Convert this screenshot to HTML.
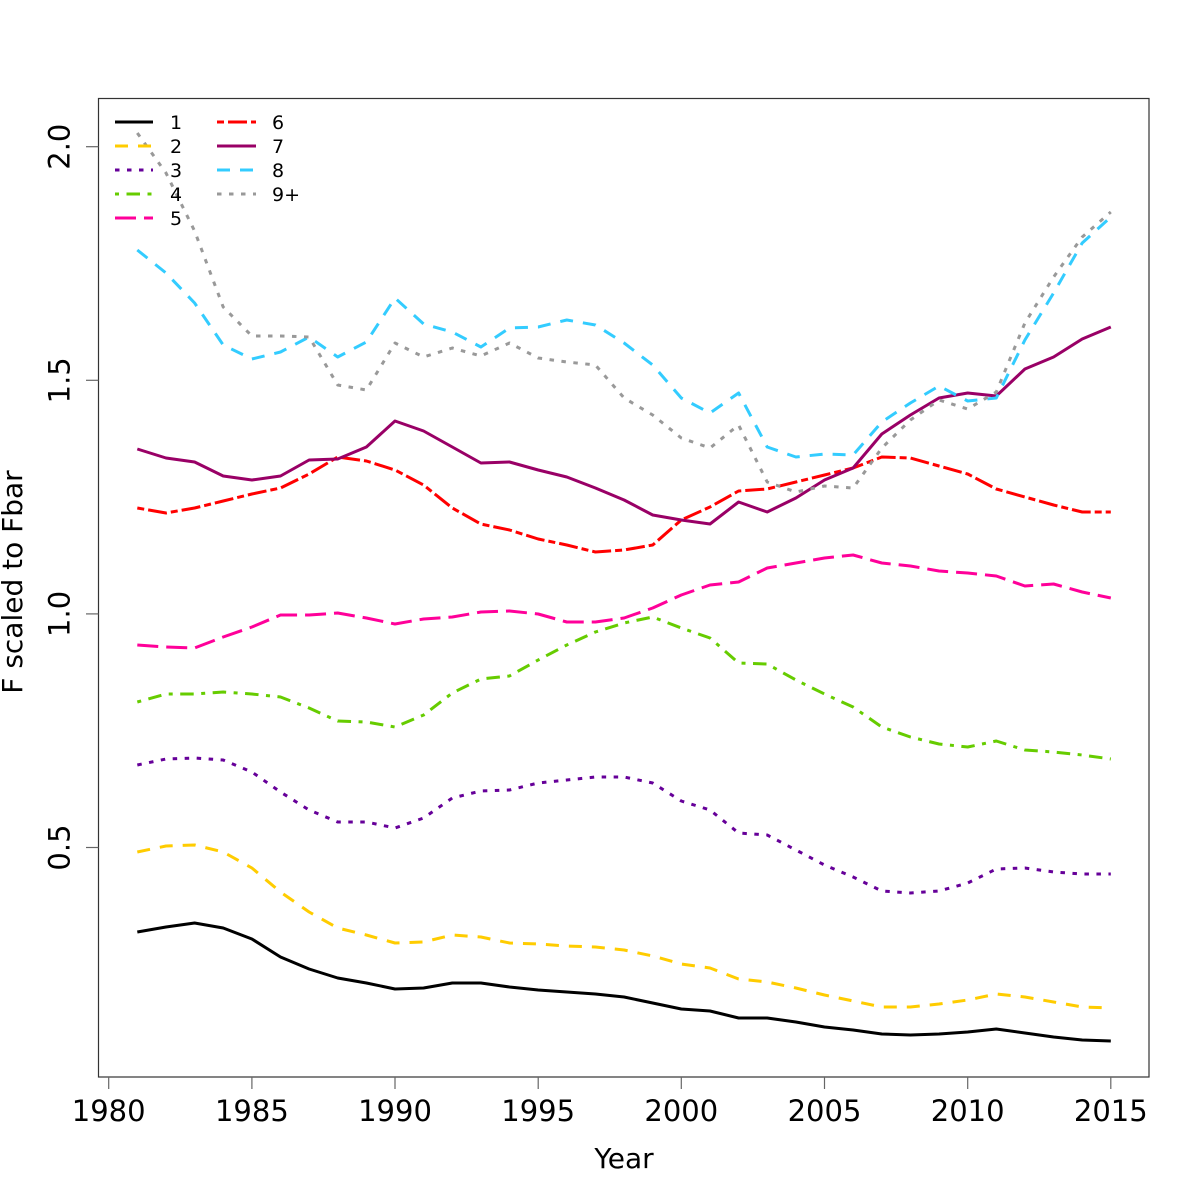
<!DOCTYPE html>
<html>
<head>
<meta charset="utf-8">
<style>
html,body{margin:0;padding:0;background:#fff;}
svg{display:block;}
text{font-family:"DejaVu Sans","Liberation Sans",sans-serif;fill:#000;}
</style>
</head>
<body>
<svg width="1200" height="1200" viewBox="0 0 1200 1200" xmlns="http://www.w3.org/2000/svg">
<rect width="1200" height="1200" fill="#fff"/>

<g fill="none" stroke-width="3" stroke-linejoin="round" stroke-linecap="butt">
<!-- 1 black solid -->
<polyline stroke="#000000" points="137.3,932 166.0,927 194.6,923 223.2,928 251.9,939 280.5,957 309.1,969 337.7,978 366.4,983 395.0,989 423.6,988 452.3,983 480.9,983 509.5,987 538.2,990 566.8,992 595.4,994 624.1,997 652.7,1003 681.3,1009 710.0,1011 738.6,1018 767.2,1018 795.9,1022 824.5,1027 853.1,1030 881.8,1034 910.4,1035 939.0,1034 967.7,1032 996.3,1029 1024.9,1033 1053.6,1037 1082.2,1040 1110.8,1041"/>
<!-- 2 gold dashed -->
<polyline stroke="#FFCC00" stroke-dasharray="13 10" points="137.3,852 166.0,846 194.6,845 223.2,852 251.9,868 280.5,892 309.1,912 337.7,928 366.4,935 395.0,943 423.6,942 452.3,935 480.9,937 509.5,943 538.2,944 566.8,946 595.4,947 624.1,950 652.7,956 681.3,964 710.0,968 738.6,979 767.2,982 795.9,988 824.5,995 853.1,1001 881.8,1007 910.4,1007 939.0,1004 967.7,1000 996.3,994 1024.9,997 1053.6,1002 1082.2,1007 1110.8,1008"/>
<!-- 3 purple dotted -->
<polyline stroke="#660099" stroke-dasharray="4.5 7.5" points="137.3,765 166.0,759 194.6,758 223.2,760 251.9,772 280.5,792 309.1,810 337.7,822 366.4,822 395.0,828 423.6,818 452.3,798 480.9,791 509.5,790 538.2,783 566.8,780 595.4,777 624.1,777 652.7,783 681.3,801 710.0,810 738.6,833 767.2,835 795.9,850 824.5,865 853.1,877 881.8,891 910.4,893 939.0,891 967.7,883 996.3,869 1024.9,868 1053.6,872 1082.2,874 1110.8,874"/>
<!-- 4 green dotdash -->
<polyline stroke="#66CC00" stroke-dasharray="4 7.5 13.5 7.5" points="137.3,702 166.0,694 194.6,694 223.2,692 251.9,694 280.5,697 309.1,708 337.7,721 366.4,722 395.0,727 423.6,715 452.3,693 480.9,679 509.5,676 538.2,660 566.8,645 595.4,632 624.1,623 652.7,617 681.3,628 710.0,638 738.6,663 767.2,664 795.9,680 824.5,694 853.1,707 881.8,727 910.4,737 939.0,744 967.7,747 996.3,741 1024.9,750 1053.6,752 1082.2,755 1110.8,759"/>
<!-- 5 pink longdash -->
<polyline stroke="#FF0099" stroke-dasharray="21 8" points="137.3,645 166.0,647 194.6,648 223.2,637 251.9,627 280.5,615 309.1,615 337.7,613 366.4,618 395.0,624 423.6,619 452.3,617 480.9,612 509.5,611 538.2,614 566.8,622 595.4,622 624.1,618 652.7,608 681.3,595 710.0,585 738.6,582 767.2,568 795.9,563 824.5,558 853.1,555 881.8,563 910.4,566 939.0,571 967.7,573 996.3,576 1024.9,586 1053.6,584 1082.2,592 1110.8,598"/>
<!-- 6 red twodash -->
<polyline stroke="#FF0000" stroke-dasharray="7 4 19 4" points="137.3,508 166.0,513 194.6,508 223.2,501 251.9,494 280.5,488 309.1,474 337.7,457 366.4,461 395.0,470 423.6,485 452.3,508 480.9,524 509.5,530 538.2,539 566.8,545 595.4,552 624.1,550 652.7,545 681.3,520 710.0,507 738.6,491 767.2,489 795.9,482 824.5,475 853.1,468 881.8,457 910.4,458 939.0,466 967.7,474 996.3,489 1024.9,497 1053.6,505 1082.2,512 1110.8,512"/>
<!-- 7 maroon solid -->
<polyline stroke="#990066" points="137.3,449 166.0,458 194.6,462 223.2,476 251.9,480 280.5,476 309.1,460 337.7,459 366.4,447 395.0,421 423.6,431 452.3,447 480.9,463 509.5,462 538.2,470 566.8,477 595.4,488 624.1,500 652.7,515 681.3,520 710.0,524 738.6,502 767.2,512 795.9,498 824.5,480 853.1,468 881.8,434 910.4,415 939.0,398 967.7,393 996.3,396 1024.9,369 1053.6,357 1082.2,339 1110.8,327"/>
<!-- 8 blue dashed -->
<polyline stroke="#33CCFF" stroke-dasharray="13 10" points="137.3,250 166.0,273 194.6,303 223.2,345 251.9,359 280.5,352 309.1,337 337.7,357 366.4,342 395.0,298 423.6,324 452.3,332 480.9,347 509.5,328 538.2,327 566.8,320 595.4,325 624.1,343 652.7,365 681.3,398 710.0,413 738.6,393 767.2,447 795.9,457 824.5,454 853.1,455 881.8,422 910.4,403 939.0,386 967.7,401 996.3,398 1024.9,340 1053.6,293 1082.2,243 1110.8,217"/>
<!-- 9+ gray dotted -->
<polyline stroke="#999999" stroke-dasharray="4.5 7.5" points="137.3,133 166.0,173 194.6,231 223.2,307 251.9,336 280.5,336 309.1,337 337.7,385 366.4,390 395.0,343 423.6,357 452.3,348 480.9,356 509.5,343 538.2,358 566.8,362 595.4,365 624.1,398 652.7,415 681.3,438 710.0,448 738.6,425 767.2,482 795.9,492 824.5,486 853.1,488 881.8,448 910.4,420 939.0,400 967.7,409 996.3,392 1024.9,323 1053.6,277 1082.2,237 1110.8,212"/>
</g>

<!-- plot box -->
<rect x="98.5" y="98.5" width="1050.5" height="978.5" fill="none" stroke="#333" stroke-width="1.2"/>

<!-- x ticks -->
<g stroke="#666" stroke-width="1.2">
<line x1="108.7" y1="1077" x2="108.7" y2="1089"/>
<line x1="251.9" y1="1077" x2="251.9" y2="1089"/>
<line x1="395.0" y1="1077" x2="395.0" y2="1089"/>
<line x1="538.2" y1="1077" x2="538.2" y2="1089"/>
<line x1="681.3" y1="1077" x2="681.3" y2="1089"/>
<line x1="824.5" y1="1077" x2="824.5" y2="1089"/>
<line x1="967.7" y1="1077" x2="967.7" y2="1089"/>
<line x1="1110.8" y1="1077" x2="1110.8" y2="1089"/>
<!-- y ticks -->
<line x1="86" y1="146.7" x2="98.5" y2="146.7"/>
<line x1="86" y1="380.3" x2="98.5" y2="380.3"/>
<line x1="86" y1="613.9" x2="98.5" y2="613.9"/>
<line x1="86" y1="847.5" x2="98.5" y2="847.5"/>
</g>

<!-- x tick labels -->
<g font-size="29" text-anchor="middle">
<text x="108.7" y="1121">1980</text>
<text x="251.9" y="1121">1985</text>
<text x="395.0" y="1121">1990</text>
<text x="538.2" y="1121">1995</text>
<text x="681.3" y="1121">2000</text>
<text x="824.5" y="1121">2005</text>
<text x="967.7" y="1121">2010</text>
<text x="1110.8" y="1121">2015</text>
</g>

<!-- y tick labels -->
<g font-size="29" text-anchor="middle">
<text transform="translate(69.5,146.7) rotate(-90)">2.0</text>
<text transform="translate(69.5,380.3) rotate(-90)">1.5</text>
<text transform="translate(69.5,613.9) rotate(-90)">1.0</text>
<text transform="translate(69.5,847.5) rotate(-90)">0.5</text>
</g>

<!-- axis titles -->
<text x="624" y="1168" font-size="28" text-anchor="middle">Year</text>
<text transform="translate(22,582) rotate(-90)" font-size="28" text-anchor="middle">F scaled to Fbar</text>

<!-- legend -->
<g fill="none" stroke-width="3" stroke-linecap="butt">
<line x1="115" y1="122" x2="153" y2="122" stroke="#000000"/>
<line x1="115" y1="146" x2="153" y2="146" stroke="#FFCC00" stroke-dasharray="13 10"/>
<line x1="115" y1="170" x2="153" y2="170" stroke="#660099" stroke-dasharray="4.5 7.5"/>
<line x1="115" y1="194" x2="153" y2="194" stroke="#66CC00" stroke-dasharray="4 7.5 13.5 7.5"/>
<line x1="115" y1="218" x2="153" y2="218" stroke="#FF0099" stroke-dasharray="21 8"/>
<line x1="217" y1="122" x2="256" y2="122" stroke="#FF0000" stroke-dasharray="7 4 19 4"/>
<line x1="217" y1="146" x2="256" y2="146" stroke="#990066"/>
<line x1="217" y1="170" x2="256" y2="170" stroke="#33CCFF" stroke-dasharray="13 10"/>
<line x1="217" y1="194" x2="256" y2="194" stroke="#999999" stroke-dasharray="4.5 7.5"/>
</g>
<g font-size="19">
<text x="170" y="129">1</text>
<text x="170" y="153">2</text>
<text x="170" y="177">3</text>
<text x="170" y="201">4</text>
<text x="170" y="225">5</text>
<text x="272" y="129">6</text>
<text x="272" y="153">7</text>
<text x="272" y="177">8</text>
<text x="272" y="201">9+</text>
</g>
</svg>
</body>
</html>
